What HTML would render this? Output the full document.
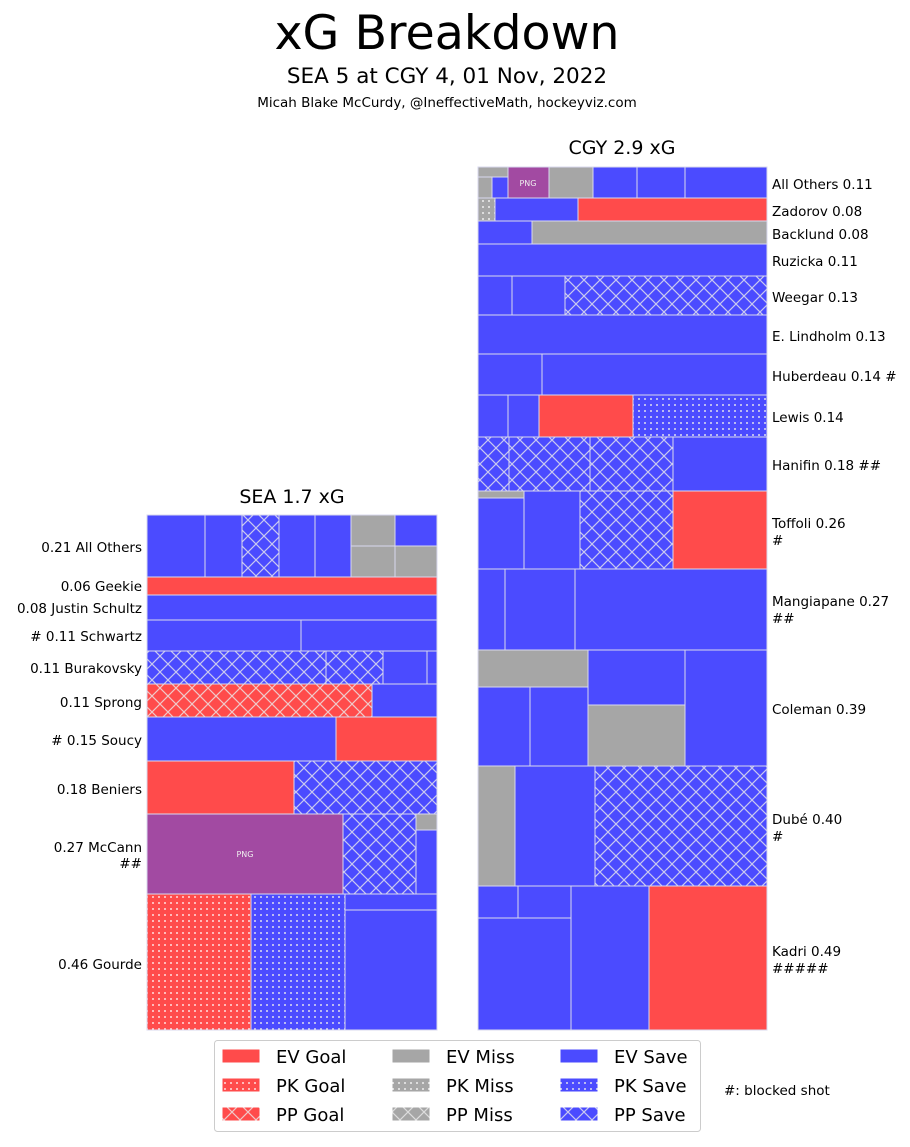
<!DOCTYPE html>
<html><head><meta charset="utf-8"><style>
body{margin:0;background:#fff;}
svg text{font-family:"DejaVu Sans","Liberation Sans",sans-serif;fill:#000;}
</style></head><body>
<svg width="910" height="1142" xmlns="http://www.w3.org/2000/svg">
<defs>
<pattern id="hb" width="16" height="16" patternUnits="userSpaceOnUse"><rect width="16" height="16" fill="#4b4bff"/><path d="M0 0L16 16M16 0L0 16M-4 12L4 20M12 -4L20 4M-4 4L4 -4M12 20L20 12" stroke="#c8c8f0" stroke-width="1.2"/></pattern>
<pattern id="hr" width="16" height="16" patternUnits="userSpaceOnUse"><rect width="16" height="16" fill="#ff4b4b"/><path d="M0 0L16 16M16 0L0 16M-4 12L4 20M12 -4L20 4M-4 4L4 -4M12 20L20 12" stroke="#f0c8c8" stroke-width="1.2"/></pattern>
<pattern id="hg" width="16" height="16" patternUnits="userSpaceOnUse"><rect width="16" height="16" fill="#a6a6a6"/><path d="M0 0L16 16M16 0L0 16" stroke="#ddd" stroke-width="1.2"/></pattern>
<pattern id="db" width="6" height="6" patternUnits="userSpaceOnUse"><rect width="6" height="6" fill="#4b4bff"/><circle cx="3" cy="3" r="1" fill="#dde"/></pattern>
<pattern id="dr" width="6" height="6" patternUnits="userSpaceOnUse"><rect width="6" height="6" fill="#ff4b4b"/><circle cx="3" cy="3" r="1" fill="#fdd"/></pattern>
<pattern id="dg" width="6" height="6" patternUnits="userSpaceOnUse"><rect width="6" height="6" fill="#a6a6a6"/><circle cx="3" cy="3" r="1" fill="#eee"/></pattern>
</defs>
<text x="447" y="49" font-size="47.5" text-anchor="middle">xG Breakdown</text>
<text x="447" y="83" font-size="21.5" text-anchor="middle">SEA 5 at CGY 4, 01 Nov, 2022</text>
<text x="447" y="107" font-size="13.5" text-anchor="middle">Micah Blake McCurdy, @IneffectiveMath, hockeyviz.com</text>
<text x="622" y="154" font-size="19" text-anchor="middle">CGY 2.9 xG</text>
<text x="292" y="503" font-size="19" text-anchor="middle">SEA 1.7 xG</text>
<g stroke="#d8d8ee" stroke-width="1">
<rect x="147" y="515" width="58" height="62" fill="#4b4bff"/>
<rect x="205" y="515" width="37" height="62" fill="#4b4bff"/>
<rect x="242" y="515" width="37" height="62" fill="url(#hb)"/>
<rect x="279" y="515" width="36" height="62" fill="#4b4bff"/>
<rect x="315" y="515" width="36" height="62" fill="#4b4bff"/>
<rect x="351" y="515" width="44" height="31" fill="#a6a6a6"/>
<rect x="351" y="546" width="44" height="31" fill="#a6a6a6"/>
<rect x="395" y="515" width="42" height="31" fill="#4b4bff"/>
<rect x="395" y="546" width="42" height="31" fill="#a6a6a6"/>
<rect x="147" y="577" width="290" height="18" fill="#ff4b4b"/>
<rect x="147" y="595" width="290" height="25" fill="#4b4bff"/>
<rect x="147" y="620" width="154" height="31" fill="#4b4bff"/>
<rect x="301" y="620" width="136" height="31" fill="#4b4bff"/>
<rect x="147" y="651" width="179" height="33" fill="url(#hb)"/>
<rect x="326" y="651" width="57" height="33" fill="url(#hb)"/>
<rect x="383" y="651" width="44" height="33" fill="#4b4bff"/>
<rect x="427" y="651" width="10" height="33" fill="#4b4bff"/>
<rect x="147" y="684" width="225" height="33" fill="url(#hr)"/>
<rect x="372" y="684" width="65" height="33" fill="#4b4bff"/>
<rect x="147" y="717" width="189" height="44" fill="#4b4bff"/>
<rect x="336" y="717" width="101" height="44" fill="#ff4b4b"/>
<rect x="147" y="761" width="147" height="53" fill="#ff4b4b"/>
<rect x="294" y="761" width="143" height="53" fill="url(#hb)"/>
<rect x="147" y="814" width="196" height="80" fill="#a24aa2"/>
<rect x="343" y="814" width="73" height="80" fill="url(#hb)"/>
<rect x="416" y="814" width="21" height="16" fill="#a6a6a6"/>
<rect x="416" y="830" width="21" height="64" fill="#4b4bff"/>
<rect x="147" y="894" width="104" height="136" fill="url(#dr)"/>
<rect x="251" y="894" width="94" height="136" fill="url(#db)"/>
<rect x="345" y="894" width="92" height="16" fill="#4b4bff"/>
<rect x="345" y="910" width="92" height="120" fill="#4b4bff"/>
<rect x="478" y="167" width="30" height="10" fill="#a6a6a6"/>
<rect x="478" y="177" width="14" height="21" fill="#a6a6a6"/>
<rect x="492" y="177" width="16" height="21" fill="#4b4bff"/>
<rect x="508" y="167" width="41" height="31" fill="#a24aa2"/>
<rect x="549" y="167" width="44" height="31" fill="#a6a6a6"/>
<rect x="593" y="167" width="44" height="31" fill="#4b4bff"/>
<rect x="637" y="167" width="48" height="31" fill="#4b4bff"/>
<rect x="685" y="167" width="82" height="31" fill="#4b4bff"/>
<rect x="478" y="198" width="17" height="23" fill="url(#dg)"/>
<rect x="495" y="198" width="83" height="23" fill="#4b4bff"/>
<rect x="578" y="198" width="189" height="23" fill="#ff4b4b"/>
<rect x="478" y="221" width="54" height="23" fill="#4b4bff"/>
<rect x="532" y="221" width="235" height="23" fill="#a6a6a6"/>
<rect x="478" y="244" width="289" height="32" fill="#4b4bff"/>
<rect x="478" y="276" width="34" height="39" fill="#4b4bff"/>
<rect x="512" y="276" width="53" height="39" fill="#4b4bff"/>
<rect x="565" y="276" width="202" height="39" fill="url(#hb)"/>
<rect x="478" y="315" width="289" height="39" fill="#4b4bff"/>
<rect x="478" y="354" width="64" height="41" fill="#4b4bff"/>
<rect x="542" y="354" width="225" height="41" fill="#4b4bff"/>
<rect x="478" y="395" width="30" height="42" fill="#4b4bff"/>
<rect x="508" y="395" width="31" height="42" fill="#4b4bff"/>
<rect x="539" y="395" width="94" height="42" fill="#ff4b4b"/>
<rect x="633" y="395" width="134" height="42" fill="url(#db)"/>
<rect x="478" y="437" width="31" height="54" fill="url(#hb)"/>
<rect x="509" y="437" width="81" height="54" fill="url(#hb)"/>
<rect x="590" y="437" width="83" height="54" fill="url(#hb)"/>
<rect x="673" y="437" width="94" height="54" fill="#4b4bff"/>
<rect x="478" y="491" width="46" height="7" fill="#a6a6a6"/>
<rect x="478" y="498" width="46" height="71" fill="#4b4bff"/>
<rect x="524" y="491" width="56" height="78" fill="#4b4bff"/>
<rect x="580" y="491" width="93" height="78" fill="url(#hb)"/>
<rect x="673" y="491" width="94" height="78" fill="#ff4b4b"/>
<rect x="478" y="569" width="27" height="81" fill="#4b4bff"/>
<rect x="505" y="569" width="70" height="81" fill="#4b4bff"/>
<rect x="575" y="569" width="192" height="81" fill="#4b4bff"/>
<rect x="478" y="650" width="110" height="37" fill="#a6a6a6"/>
<rect x="478" y="687" width="52" height="79" fill="#4b4bff"/>
<rect x="530" y="687" width="58" height="79" fill="#4b4bff"/>
<rect x="588" y="650" width="97" height="55" fill="#4b4bff"/>
<rect x="588" y="705" width="97" height="61" fill="#a6a6a6"/>
<rect x="685" y="650" width="82" height="116" fill="#4b4bff"/>
<rect x="478" y="766" width="37" height="120" fill="#a6a6a6"/>
<rect x="515" y="766" width="80" height="120" fill="#4b4bff"/>
<rect x="595" y="766" width="172" height="120" fill="url(#hb)"/>
<rect x="478" y="886" width="40" height="32" fill="#4b4bff"/>
<rect x="518" y="886" width="53" height="32" fill="#4b4bff"/>
<rect x="478" y="918" width="93" height="112" fill="#4b4bff"/>
<rect x="571" y="886" width="78" height="144" fill="#4b4bff"/>
<rect x="649" y="886" width="118" height="144" fill="#ff4b4b"/>
</g>
<text x="245" y="857" font-size="8" text-anchor="middle" style="fill:#eee">PNG</text>
<text x="528" y="186" font-size="8" text-anchor="middle" style="fill:#eee">PNG</text>
<g font-size="13.5" text-anchor="end">
<text x="142" y="552">0.21 All Others</text>
<text x="142" y="591">0.06 Geekie</text>
<text x="142" y="613">0.08 Justin Schultz</text>
<text x="142" y="641">#  0.11 Schwartz</text>
<text x="142" y="673">0.11 Burakovsky</text>
<text x="142" y="707">0.11 Sprong</text>
<text x="142" y="745">#  0.15 Soucy</text>
<text x="142" y="794">0.18 Beniers</text>
<text x="142" y="852">0.27 McCann</text>
<text x="142" y="868">##</text>
<text x="142" y="969">0.46 Gourde</text>
</g>
<g font-size="13.5">
<text x="772" y="189">All Others 0.11</text>
<text x="772" y="216">Zadorov 0.08</text>
<text x="772" y="239">Backlund 0.08</text>
<text x="772" y="266">Ruzicka 0.11</text>
<text x="772" y="302">Weegar 0.13</text>
<text x="772" y="341">E. Lindholm 0.13</text>
<text x="772" y="381">Huberdeau 0.14 #</text>
<text x="772" y="422">Lewis 0.14</text>
<text x="772" y="470">Hanifin 0.18 ##</text>
<text x="772" y="528">Toffoli 0.26</text>
<text x="772" y="545">#</text>
<text x="772" y="606">Mangiapane 0.27</text>
<text x="772" y="623">##</text>
<text x="772" y="714">Coleman 0.39</text>
<text x="772" y="824">Dubé 0.40</text>
<text x="772" y="841">#</text>
<text x="772" y="956">Kadri 0.49</text>
<text x="772" y="973">#####</text>
<text x="724" y="1095">#: blocked shot</text>
</g>
<rect x="214.5" y="1040.5" width="486" height="91" rx="3" fill="#fff" stroke="#ccc"/>
<g stroke="#fff">
<rect x="222" y="1049" width="38" height="14" fill="#ff4b4b"/>
<rect x="222" y="1078" width="38" height="14" fill="url(#dr)"/>
<rect x="222" y="1107" width="38" height="14" fill="url(#hr)"/>
<rect x="392" y="1049" width="38" height="14" fill="#a6a6a6"/>
<rect x="392" y="1078" width="38" height="14" fill="url(#dg)"/>
<rect x="392" y="1107" width="38" height="14" fill="url(#hg)"/>
<rect x="560" y="1049" width="38" height="14" fill="#4b4bff"/>
<rect x="560" y="1078" width="38" height="14" fill="url(#db)"/>
<rect x="560" y="1107" width="38" height="14" fill="url(#hb)"/>
</g>
<g font-size="18">
<text x="276" y="1063">EV Goal</text>
<text x="276" y="1092">PK Goal</text>
<text x="276" y="1121">PP Goal</text>
<text x="446" y="1063">EV Miss</text>
<text x="446" y="1092">PK Miss</text>
<text x="446" y="1121">PP Miss</text>
<text x="614" y="1063">EV Save</text>
<text x="614" y="1092">PK Save</text>
<text x="614" y="1121">PP Save</text>
</g>
</svg>
</body></html>
